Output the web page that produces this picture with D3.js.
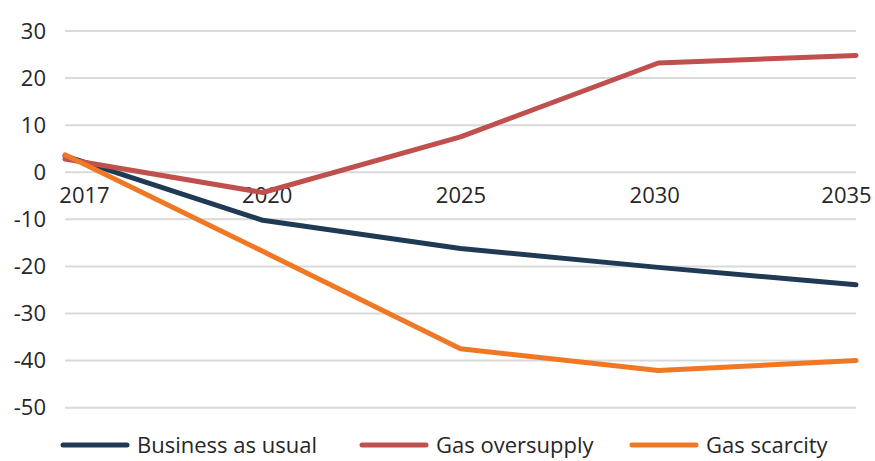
<!DOCTYPE html>
<html><head><meta charset="utf-8">
<script src="https://cdn.jsdelivr.net/npm/d3@7"></script>
<style>body{margin:0;background:#fff}svg{display:block}text{font-family:"Open Sans",sans-serif;fill:#262626}</style>
</head><body><svg id="c" width="875" height="461"></svg>
<script>
const years = ["2017","2020","2025","2030","2035"];
const yTicks = [30,20,10,0,-10,-20,-30,-40,-50];
const seriesNames = ["Business as usual","Gas oversupply","Gas scarcity"];
const seriesColors = ["#203a55","#c0504d","#f07824"];
const businessAsUsual = [3.5,-10.2,-16.2,-20.2,-23.9];
const gasOversupply = [2.8,-4.3,7.5,23.2,24.8];
const gasScarcity = [3.7,-16.8,-37.5,-42.1,-40.0];
const seriesValues = [businessAsUsual, gasOversupply, gasScarcity];

const svg = d3.select("#c");
const x = d3.scalePoint().domain(years).range([65,856]);
const y = d3.scaleLinear().domain([-50,30]).range([407.7,31]);

// gridlines
svg.append("g").selectAll("line").data(yTicks).join("line")
  .attr("x1",65).attr("x2",856).attr("y1",d=>y(d)).attr("y2",d=>y(d))
  .attr("stroke","#d9d9d9").attr("stroke-width",2);

// y axis labels
const yAxis = d3.axisLeft(y).tickValues(yTicks).tickSize(0).tickPadding(0).tickFormat(d=>String(d));
const yg = svg.append("g").attr("transform","translate(46,0)").call(yAxis);
yg.select(".domain").remove();
yg.selectAll("text").attr("font-size",22).attr("font-family","Open Sans, sans-serif").attr("fill","#262626");

// x axis labels (below 0 line)
const xAxis = d3.axisBottom(x).tickSize(0).tickPadding(0);
const xg = svg.append("g").attr("transform","translate(0,"+y(0)+")").call(xAxis);
xg.select(".domain").remove();
xg.selectAll("text").attr("font-size",22).attr("font-family","Open Sans, sans-serif").attr("fill","#262626")
  .attr("dy",null).attr("y",31)
  .attr("dx",(d,i)=> i===0 ? 19 : (i===years.length-1 ? -10 : (i===1?4:(i===3?-4:0))));

// lines
const line = d3.line().x((d,i)=>x(years[i])).y(d=>y(d));
svg.append("g").selectAll("path").data(seriesValues).join("path")
  .attr("d",line).attr("fill","none")
  .attr("stroke",(d,i)=>seriesColors[i]).attr("stroke-width",5)
  .attr("stroke-linejoin","round").attr("stroke-linecap","round");

// legend
const legendX = [63,362,632];
const lg = svg.append("g").selectAll("g").data(seriesNames).join("g")
  .attr("transform",(d,i)=>"translate("+legendX[i]+",445)");
lg.append("line").attr("x1",0).attr("x2",64).attr("y1",0).attr("y2",0)
  .attr("stroke",(d,i)=>seriesColors[i]).attr("stroke-width",5).attr("stroke-linecap","round");
lg.append("text").attr("x",74).attr("y",8).attr("font-size",22).text(d=>d);
</script></body></html>
